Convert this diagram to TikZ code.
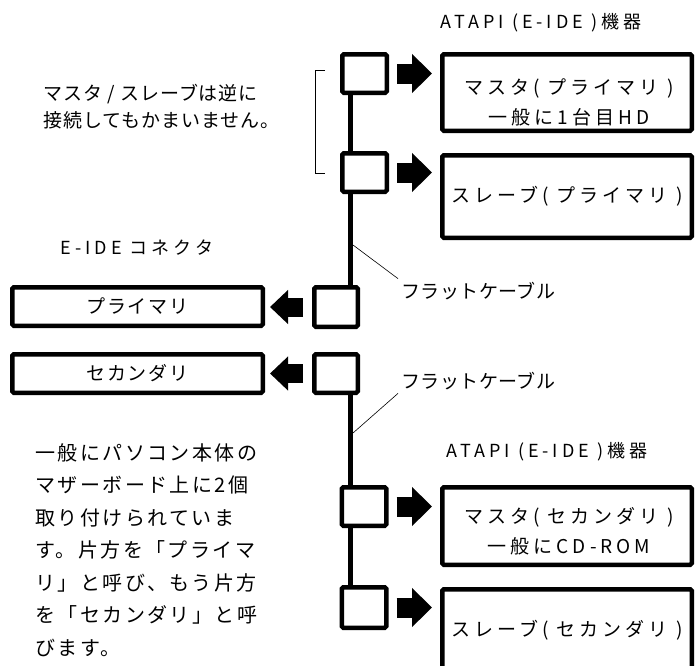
\documentclass[tikz,border=0pt]{standalone}
\usepackage{fontspec}
\setmainfont{Noto Sans CJK JP}
\usetikzlibrary{positioning,arrows.meta}

\begin{document}
\begin{tikzpicture}[
  x=1pt, y=-1pt,
  font=\fontsize{19}{22}\selectfont\addfontfeature{LetterSpace=10},
  port/.style={draw, line width=4.5pt, rounded corners=1.5pt, minimum width=44.5pt, minimum height=38.5pt, inner sep=0pt},
  devbox/.style={draw, line width=4.5pt, rounded corners=1.5pt, minimum width=249.5pt, inner sep=0pt,
    font=\fontsize{19}{22}\selectfont\addfontfeature{LetterSpace=21}},
  lbox/.style={draw, line width=4.5pt, rounded corners=1.5pt, minimum width=250.5pt, minimum height=38.5pt, inner sep=0pt},
  twoline/.style={align=center, font=\fontsize{19}{30}\selectfont\addfontfeature{LetterSpace=21}},
  cable/.style={line width=5pt},
  lead/.style={line width=0.6pt},
  fatr/.style={line width=20pt, -{Triangle[length=20pt,width=38pt]}},
  fatl/.style={line width=19pt, -{Triangle[length=18pt,width=33pt]}}
]
\useasboundingbox (0,0) rectangle (696,665);

% ports on the cable
\node[port] (p1) at (364.5,73.5) {};
\node[port] (p2) at (364.5,172.5) {};
\node[port, minimum width=43.5pt, minimum height=39.5pt] (q1) at (336,307) {};
\node[port, minimum width=43.5pt] (q2) at (336,373.5) {};
\node[port] (p3) at (364,506.5) {};
\node[port, minimum height=40.5pt] (p4) at (364,607.5) {};

% devices
\node[devbox, minimum height=76.5pt] (d1) at (567,92.5) {};
\node[twoline] (t1) at (569,102) {マスタ( プライマリ )\\一般に1台目HD};
\node[devbox, minimum height=82.5pt] (d2) at (567,196.5) {スレーブ( プライマリ )};
\node[devbox, minimum height=77.5pt] (d3) at (567,526) {};
\node[twoline] (t3) at (569,531) {マスタ( セカンダリ )\\一般にCD-ROM};
\node[devbox, minimum height=81.5pt] (d4) at (567,630) {スレーブ( セカンダリ )};

% motherboard connectors
\node[lbox] (l1) at (137.5,306.5) {プライマリ};
\node[lbox] (l2) at (137.5,373.5) {セカンダリ};

% labels
\node[font=\fontsize{18}{22}\selectfont\addfontfeature{LetterSpace=22}] (atapi1) at (541,23) {ATAPI (E-IDE )機器};
\node[font=\fontsize{18}{22}\selectfont\addfontfeature{LetterSpace=22}] (atapi2) at (547,452) {ATAPI (E-IDE )機器};
\node[font=\fontsize{18}{22}\selectfont\addfontfeature{LetterSpace=22}] (conn) at (137,248) {E-IDE コネクタ};
\node[anchor=west, font=\fontsize{19}{22}\selectfont\addfontfeature{LetterSpace=2}] (f1) at (398,291) {フラットケーブル};
\node[anchor=west, font=\fontsize{19}{22}\selectfont\addfontfeature{LetterSpace=2}] (f2) at (398,381) {フラットケーブル};
\node[anchor=west, align=left, font=\fontsize{19}{27}\selectfont\addfontfeature{LetterSpace=5}] (note1) at (40,106.5)
  {マスタ / スレーブは逆に\\接続してもかまいません。};
\node[anchor=west, align=left, font=\fontsize{20}{32.5}\selectfont\addfontfeature{LetterSpace=12}] (note2) at (32,550)
  {一般にパソコン本体の\\マザーボード上に2個\\取り付けられていま\\す。片方を「プライマ\\リ」と呼び、もう片方\\を「セカンダリ」と呼\\びます。};

% flat cable
\coordinate (cab) at (350,0);
\draw[cable] (p1.south -| cab) -- (p2.north -| cab);
\draw[cable] (p2.south -| cab) -- (q1.north -| cab);
\draw[cable] (q2.south -| cab) -- (p3.north -| cab);
\draw[cable] (p3.south -| cab) -- (p4.north -| cab);

% leaders and bracket
\coordinate (k1) at (353,245);
\coordinate (k2) at (353,433);
\draw[lead] (k1) -- (f1.north west);
\draw[lead] (f2.south west) -- (k2);
\coordinate (bt) at (325,70);
\coordinate (bb) at (325,173);
\draw[lead] (bt) -- ++(-10,0) |- (bb);

% block arrows
\draw[fatr] ([xshift=8pt]p1.east) -- ([xshift=-8pt]p1.east -| d1.west);
\draw[fatr] ([xshift=8pt]p2.east) -- ([xshift=-8pt]p2.east -| d2.west);
\draw[fatr] ([xshift=8pt]p3.east) -- ([xshift=-8pt]p3.east -| d3.west);
\draw[fatr] ([xshift=8pt]p4.east) -- ([xshift=-8pt]p4.east -| d4.west);
\draw[fatl] ([xshift=-9pt]q1.west) -- ([xshift=5pt]q1.west -| l1.east);
\draw[fatl] ([xshift=-9pt]q2.west) -- ([xshift=5pt]q2.west -| l2.east);
\end{tikzpicture}
\end{document}
